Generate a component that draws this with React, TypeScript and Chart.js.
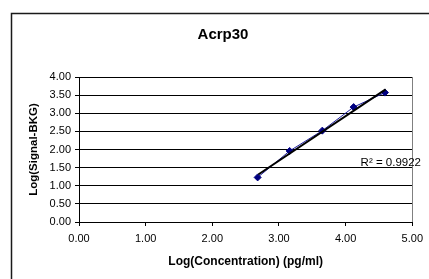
import React, { useEffect, useRef } from "react";
import { Chart, registerables } from "chart.js";

Chart.register(...registerables);

const chartTitle = "Acrp30";
const xAxisTitle = "Log(Concentration) (pg/ml)";
const yAxisTitle = "Log(Signal-BKG)";
const r2Label = "R² = 0.9922";

const logConc = [2.68, 3.16, 3.65, 4.12, 4.59];
const logSignal = [1.23, 1.96, 2.52, 3.17, 3.57];

const trendX = [2.69, 4.6];
const trendY = [1.31, 3.66];

const FONT = "'Liberation Sans', Arial, sans-serif";

const overlay = {
  id: "overlay",
  beforeDraw(chart: any) {
    const ctx = chart.ctx;
    ctx.save();
    ctx.fillStyle = "#ffffff";
    ctx.fillRect(0, 0, chart.width, chart.height);
    ctx.restore();
  },
  afterDraw(chart: any) {
    const ctx = chart.ctx;
    const a = chart.chartArea;
    ctx.save();
    // plot area right border
    ctx.strokeStyle = "#808080";
    ctx.lineWidth = 1;
    ctx.beginPath();
    ctx.moveTo(Math.round(a.right) + 0.5, a.top);
    ctx.lineTo(Math.round(a.right) + 0.5, a.bottom);
    ctx.stroke();
    // outer chart border
    ctx.strokeStyle = "#1a1a1a";
    ctx.lineWidth = 1.5;
    ctx.strokeRect(11.5, 13.5, 600, 600);
    // title
    ctx.fillStyle = "#000";
    ctx.font = `bold 15px ${FONT}`;
    ctx.textAlign = "center";
    ctx.textBaseline = "middle";
    ctx.fillText(chartTitle, 223, 35);
    // R² label
    ctx.font = `11.5px ${FONT}`;
    ctx.textAlign = "right";
    ctx.fillText(r2Label, 421, 163);
    ctx.restore();
  },
};

export default function App() {
  const ref = useRef<HTMLCanvasElement | null>(null);

  useEffect(() => {
    if (!ref.current) return;
    const chart = new Chart(ref.current, {
      type: "scatter",
      data: {
        datasets: [
          {
            label: "Trend",
            data: trendX.map((x, i) => ({ x, y: trendY[i] })),
            showLine: true,
            borderColor: "#000000",
            borderWidth: 2,
            pointRadius: 0,
            order: 0,
          },
          {
            label: "Acrp30",
            data: logConc.map((x, i) => ({ x, y: logSignal[i] })),
            showLine: true,
            borderColor: "#1f1fa0",
            borderWidth: 1,
            backgroundColor: "#000080",
            pointBackgroundColor: "#000080",
            pointBorderColor: "#000080",
            pointStyle: "rectRot",
            pointRadius: 3.5,
            order: 1,
          },
        ],
      },
      options: {
        responsive: false,
        animation: false,
        devicePixelRatio: 1,
        layout: { padding: { top: 77, right: 15, left: 0, bottom: 0 } },
        plugins: {
          legend: { display: false },
          title: { display: false },
          tooltip: { enabled: false },
        },
        scales: {
          x: {
            type: "linear",
            min: 0,
            max: 5,
            afterFit(scale: any) {
              scale.height = 57;
            },
            ticks: {
              stepSize: 1,
              color: "#000",
              padding: 6,
              font: { family: FONT, size: 11 },
              callback: (v: any) => Number(v).toFixed(2),
            },
            grid: {
              drawOnChartArea: false,
              drawTicks: true,
              tickLength: 4,
              color: "#000",
            },
            border: { display: true, color: "#000", width: 1 },
            title: {
              display: true,
              text: xAxisTitle,
              color: "#000",
              font: { family: FONT, size: 12, weight: "bold" },
              padding: { top: 0, bottom: 10 },
            },
          },
          y: {
            type: "linear",
            min: 0,
            max: 4,
            afterFit(scale: any) {
              scale.width = 79;
            },
            ticks: {
              stepSize: 0.5,
              color: "#000",
              padding: 4,
              font: { family: FONT, size: 11 },
              callback: (v: any) => Number(v).toFixed(2),
            },
            grid: {
              drawOnChartArea: true,
              drawTicks: true,
              tickLength: 4,
              color: "#000",
              lineWidth: 1,
            },
            border: { display: true, color: "#000", width: 1 },
            title: {
              display: true,
              text: yAxisTitle,
              color: "#000",
              font: { family: FONT, size: 11.5, weight: "bold" },
              padding: { top: 27, bottom: 0 },
            },
          },
        },
      },
      plugins: [overlay],
    });
    return () => chart.destroy();
  }, []);

  return (
    <div style={{ position: "fixed", left: 0, top: 0, width: 429, height: 279, background: "#fff" }}>
      <canvas ref={ref} width={429} height={279} style={{ display: "block", width: 429, height: 279 }} />
    </div>
  );
}
